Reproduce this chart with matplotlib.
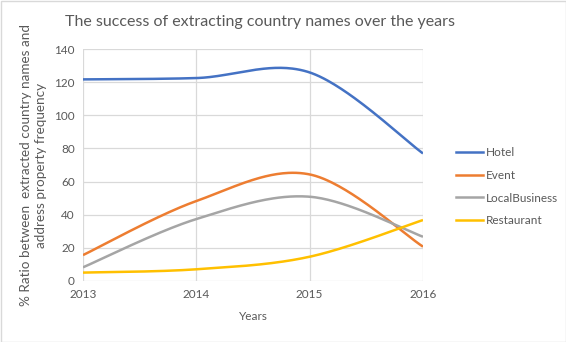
import numpy as np
import matplotlib
matplotlib.use("Agg")
import matplotlib.pyplot as plt
from matplotlib.lines import Line2D

plt.rcParams['font.family'] = ['Lato', 'DejaVu Sans']

years = [2013, 2014, 2015, 2016]
series_names = ["Hotel", "Event", "LocalBusiness", "Restaurant"]
hotel = [121.8, 122.6, 126.0, 77.0]
event = [15.5, 48.2, 64.3, 20.6]
local_business = [8.1, 37.3, 50.8, 26.6]
restaurant = [4.9, 6.9, 14.5, 36.7]
colors = ["#4472C4", "#ED7D31", "#A5A5A5", "#FFC000"]
y_ticks = [0, 20, 40, 60, 80, 100, 120, 140]


def smooth(xs, ys, n=60):
    P = np.column_stack([xs, ys]).astype(float)
    m = len(P)
    out = []
    for i in range(m - 1):
        p0 = P[i - 1] if i > 0 else P[i]
        p1 = P[i]
        p2 = P[i + 1]
        p3 = P[i + 2] if i + 2 < m else P[i + 1]
        c1 = p1 + (p2 - p0) / 6.0
        c2 = p2 - (p3 - p1) / 6.0
        t = np.linspace(0, 1, n)[:, None]
        b = ((1 - t) ** 3) * p1 + 3 * ((1 - t) ** 2) * t * c1 + 3 * (1 - t) * t ** 2 * c2 + t ** 3 * p2
        out.append(b if i == 0 else b[1:])
    B = np.vstack(out)
    return B[:, 0], B[:, 1]


fig = plt.figure(figsize=(5.66, 3.42), dpi=100)
ax = fig.add_axes([83 / 566, 1 - 280.7 / 342, (423 - 83) / 566, (280.7 - 49.3) / 342])

data = [hotel, event, local_business, restaurant]
handles = []
for name, vals, c in zip(series_names, data, colors):
    x, y = smooth(years, vals)
    ax.plot(x, y, color=c, lw=1.8, solid_capstyle='butt', zorder=3)
    handles.append(Line2D([0], [0], color=c, lw=1.8))

ax.set_xlim(2013, 2016)
ax.set_ylim(0, 140)
ax.set_xticks(years)
ax.set_xticklabels([str(y) for y in years])
ax.set_yticks(y_ticks)
ax.grid(True, color="#D9D9D9", lw=0.9)
ax.set_axisbelow(True)
for s in ax.spines.values():
    s.set_visible(False)
ax.tick_params(length=0, labelsize=8.5, labelcolor="#595959", pad=6)

ax.set_xlabel("Years", fontsize=8.5, color="#595959", labelpad=8)
ax.set_ylabel("% Ratio between  extracted country names and\naddress property frequency",
              fontsize=9.7, color="#595959", labelpad=5, linespacing=1.3)

fig.text(260 / 566, 1 - 22 / 342, "The success of extracting country names over the years",
         ha='center', va='center', fontsize=11.5, color="#595959")

fig.legend(handles, series_names, loc='upper left', bbox_to_anchor=(456 / 566, 1 - 147 / 342),
           frameon=False, fontsize=8.5, labelcolor="#595959", handlelength=2.3,
           handletextpad=0.2, labelspacing=1.0, borderpad=0, borderaxespad=0)

border = plt.Rectangle((0.5 / 566, 0.5 / 342), 1 - 1 / 566, 1 - 1 / 342, transform=fig.transFigure,
                       fill=False, edgecolor="#D9D9D9", lw=1)
fig.add_artist(border)

fig.savefig("out.png", dpi=100)
